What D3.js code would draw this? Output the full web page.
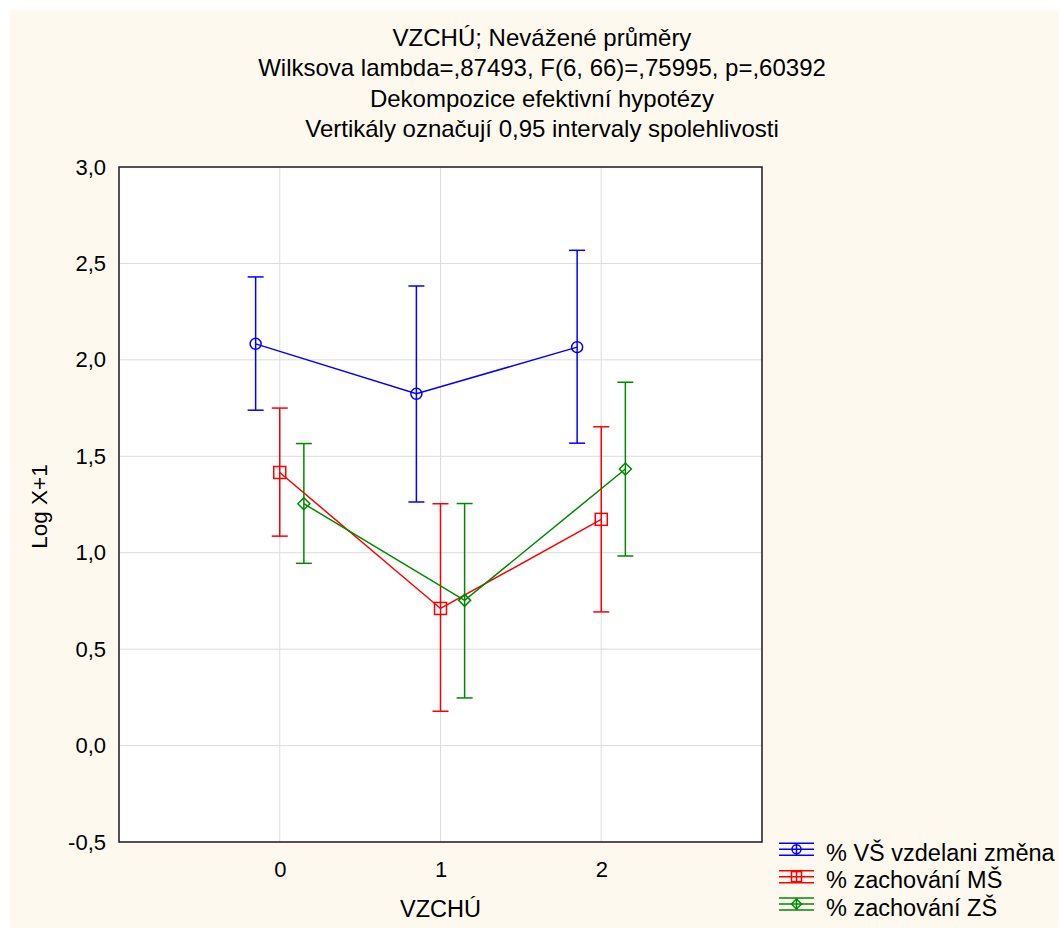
<!DOCTYPE html>
<html>
<head>
<meta charset="utf-8">
<script src="https://cdn.jsdelivr.net/npm/d3@7"></script>
<style>
  html, body { margin: 0; padding: 0; background: #fff; }
  svg { display: block; font-family: "Liberation Sans", Arial, sans-serif; }
</style>
</head>
<body>
<div id="chart"></div>
<script>
// data
const categories = [0, 1, 2];
const seriesNames = ["% VŠ vzdelani změna", "% zachování MŠ", "% zachování ZŠ"];
const vsMean = [2.083, 1.824, 2.066];
const vsLow = [1.739, 1.263, 1.568];
const vsHigh = [2.430, 2.383, 2.568];
const msMean = [1.416, 0.711, 1.173];
const msLow = [1.086, 0.178, 0.693];
const msHigh = [1.750, 1.254, 1.653];
const zsMean = [1.254, 0.753, 1.434];
const zsLow = [0.945, 0.247, 0.983];
const zsHigh = [1.566, 1.255, 1.884];
const yTicks = [-0.5, 0, 0.5, 1, 1.5, 2, 2.5, 3];
const titleLines = [
  "VZCHÚ; Nevážené průměry",
  "Wilksova lambda=,87493, F(6, 66)=,75995, p=,60392",
  "Dekompozice efektivní hypotézy",
  "Vertikály označují 0,95 intervaly spolehlivosti"
];

const W = 1059, H = 928;
const plot = { left: 119, right: 762, top: 167, bottom: 842 };
const FONT = "Liberation Sans, Arial, sans-serif";

const series = [
  { name: seriesNames[0], mean: vsMean, low: vsLow, high: vsHigh, color: "#0000ff", shift: -0.15, mark: "circle" },
  { name: seriesNames[1], mean: msMean, low: msLow, high: msHigh, color: "#ff0000", shift: 0, mark: "square" },
  { name: seriesNames[2], mean: zsMean, low: zsLow, high: zsHigh, color: "#008800", shift: 0.15, mark: "diamond" }
];

const svg = d3.select("#chart").append("svg")
  .attr("width", W).attr("height", H);

// cream panel
svg.append("rect")
  .attr("x", 10).attr("y", 10).attr("width", W - 10).attr("height", H - 10)
  .attr("rx", 3).attr("fill", "#fdf9ee");

const x = d3.scaleLinear().domain([-1, 3]).range([plot.left, plot.right]);
const y = d3.scaleLinear().domain([-0.5, 3]).range([plot.bottom, plot.top]);

svg.append("rect")
  .attr("x", plot.left).attr("y", plot.top)
  .attr("width", plot.right - plot.left).attr("height", plot.bottom - plot.top)
  .attr("fill", "#fff");

// grid
svg.append("g").selectAll("line").data(yTicks.slice(1, -1)).join("line")
  .attr("x1", plot.left).attr("x2", plot.right)
  .attr("y1", d => y(d)).attr("y2", d => y(d))
  .attr("stroke", "#dcdcdc").attr("stroke-width", 1);
svg.append("g").selectAll("line").data(categories).join("line")
  .attr("y1", plot.top).attr("y2", plot.bottom)
  .attr("x1", d => x(d)).attr("x2", d => x(d))
  .attr("stroke", "#dcdcdc").attr("stroke-width", 1);

// axes (labels only, frame drawn separately)
const yAxis = svg.append("g")
  .attr("transform", `translate(${plot.left},0)`)
  .call(d3.axisLeft(y).tickValues(yTicks).tickSize(0).tickPadding(13)
    .tickFormat(d => d.toFixed(1).replace(".", ",")));
yAxis.select(".domain").remove();
yAxis.selectAll("text").attr("font-size", 22).attr("fill", "#000")
  .attr("font-family", FONT);

const xAxis = svg.append("g")
  .attr("transform", `translate(0,${plot.bottom})`)
  .call(d3.axisBottom(x).tickValues(categories).tickSize(0).tickPadding(19)
    .tickFormat(d3.format("d")));
xAxis.select(".domain").remove();
xAxis.selectAll("text").attr("font-size", 22).attr("fill", "#000")
  .attr("font-family", FONT);

svg.append("text")
  .attr("x", x(1)).attr("y", 917)
  .attr("text-anchor", "middle").attr("font-size", 23.5)
  .text("VZCHÚ");

svg.append("text")
  .attr("transform", `translate(47,${(plot.top + plot.bottom) / 2 + 2}) rotate(-90)`)
  .attr("text-anchor", "middle").attr("font-size", 22.5)
  .text("Log X+1");

// title
svg.append("g").selectAll("text").data(titleLines).join("text")
  .attr("x", 542).attr("y", (d, i) => 46 + i * 30.3)
  .attr("text-anchor", "middle").attr("font-size", 24)
  .text(d => d);

// marker drawing
function drawMark(g, kind, cx, cy, color, size) {
  if (kind === "circle") {
    g.append("circle").attr("cx", cx).attr("cy", cy).attr("r", size - 0.5)
      .attr("fill", "none").attr("stroke", color).attr("stroke-width", 1.5);
  } else if (kind === "square") {
    g.append("rect").attr("x", cx - size).attr("y", cy - size).attr("width", size * 2).attr("height", size * 2)
      .attr("fill", "none").attr("stroke", color).attr("stroke-width", 1.5);
  } else {
    g.append("path").attr("d", `M${cx},${cy - size}L${cx + size},${cy}L${cx},${cy + size}L${cx - size},${cy}Z`)
      .attr("fill", "none").attr("stroke", color).attr("stroke-width", 1.5);
  }
}

const line = d3.line().x(d => x(d[0])).y(d => y(d[1]));

series.forEach(s => {
  const g = svg.append("g");
  const pts = categories.map((c, i) => [c + s.shift, s.mean[i]]);
  g.append("path").attr("d", line(pts))
    .attr("fill", "none").attr("stroke", s.color).attr("stroke-width", 1.5);
  categories.forEach((c, i) => {
    const cx = x(c + s.shift);
    g.append("line").attr("x1", cx).attr("x2", cx)
      .attr("y1", y(s.low[i])).attr("y2", y(s.high[i]))
      .attr("stroke", s.color).attr("stroke-width", 1.5);
    [s.low[i], s.high[i]].forEach(v => {
      g.append("line").attr("x1", cx - 8).attr("x2", cx + 8)
        .attr("y1", y(v)).attr("y2", y(v))
        .attr("stroke", s.color).attr("stroke-width", 1.5);
    });
    drawMark(g, s.mark, cx, y(s.mean[i]), s.color, 6);
  });
});

// frame
svg.append("rect")
  .attr("x", plot.left).attr("y", plot.top)
  .attr("width", plot.right - plot.left).attr("height", plot.bottom - plot.top)
  .attr("fill", "none").attr("stroke", "#1a1a1a").attr("stroke-width", 1.5);

// legend
const legend = svg.append("g");
series.forEach((s, i) => {
  const cy = 849.3 + i * 27.35;
  const g = legend.append("g");
  [-6, 0, 6].forEach(dy => {
    g.append("line").attr("x1", 779).attr("x2", 814)
      .attr("y1", cy + dy).attr("y2", cy + dy)
      .attr("stroke", s.color).attr("stroke-width", 1.5);
  });
  g.append("line").attr("x1", 796.5).attr("x2", 796.5)
    .attr("y1", cy - 6).attr("y2", cy + 6)
    .attr("stroke", s.color).attr("stroke-width", 1.5);
  drawMark(g, s.mark, 796.5, cy, s.color, 5);
  g.append("text").attr("x", 826).attr("y", cy + 11.5)
    .attr("font-size", 23.5).text(s.name);
});
</script>
</body>
</html>
